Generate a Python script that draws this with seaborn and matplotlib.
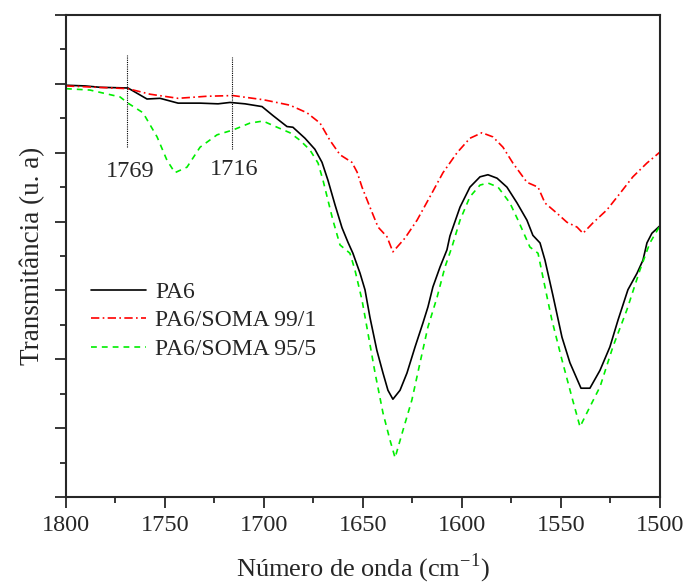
import numpy as np
import pandas as pd
import matplotlib
matplotlib.use("Agg")
import matplotlib.pyplot as plt
import seaborn as sns

# ---- data ----
pa6_x = [1800, 1790.4, 1782.8, 1768.7, 1759.1, 1752.5, 1743.4, 1732.3, 1723.2, 1717.2, 1709.6, 1701.0,
         1695.5, 1688.4, 1685.4, 1679.3, 1674.3, 1670.7, 1667.7, 1664.1, 1660.6, 1657.6, 1655.1, 1651.5,
         1649.0, 1646.5, 1643.0, 1639.9, 1637.4, 1634.9, 1631.3, 1627.8, 1623.7, 1619.7, 1617.2, 1614.7,
         1611.1, 1607.6, 1606.1, 1601.0, 1596.0, 1590.9, 1586.9, 1582.3, 1577.3, 1572.2, 1567.2, 1564.2,
         1560.6, 1558.1, 1554.1, 1549.5, 1545.5, 1539.9, 1535.4, 1530.3, 1525.3, 1521.2, 1516.2, 1511.6,
         1508.6, 1506.6, 1504.1, 1500]
pa6_y = [5.98, 5.97, 5.95, 5.94, 5.78, 5.79, 5.72, 5.72, 5.71, 5.73, 5.71, 5.67,
         5.54, 5.38, 5.37, 5.21, 5.05, 4.86, 4.60, 4.24, 3.91, 3.70, 3.54, 3.25,
         3.01, 2.61, 2.13, 1.80, 1.55, 1.42, 1.55, 1.80, 2.18, 2.53, 2.76, 3.05,
         3.34, 3.59, 3.79, 4.21, 4.50, 4.65, 4.68, 4.63, 4.50, 4.27, 4.02, 3.80,
         3.69, 3.44, 2.93, 2.32, 1.95, 1.58, 1.58, 1.84, 2.18, 2.57, 3.01, 3.25,
         3.44, 3.69, 3.83, 3.94]

s991_x = [1800, 1768.7, 1757.6, 1743.4, 1728.8, 1715.7, 1700.5, 1697.0, 1686.9, 1678.3, 1671.7, 1666.7,
          1661.6, 1655.6, 1653.0, 1650.5, 1646.5, 1642.4, 1637.9, 1634.9, 1628.8, 1622.7, 1616.2, 1609.6,
          1602.5, 1596.0, 1589.9, 1584.4, 1579.3, 1574.3, 1567.2, 1561.6, 1558.1, 1552.0, 1547.0, 1541.9,
          1538.9, 1533.9, 1526.8, 1520.2, 1513.7, 1506.6, 1500]
s991_y = [5.97, 5.93, 5.85, 5.79, 5.82, 5.83, 5.77, 5.75, 5.69, 5.58, 5.43, 5.18,
          4.97, 4.86, 4.72, 4.50, 4.21, 3.92, 3.78, 3.56, 3.76, 4.02, 4.36, 4.71,
          5.00, 5.21, 5.29, 5.23, 5.08, 4.85, 4.57, 4.50, 4.27, 4.12, 3.99, 3.92,
          3.83, 3.98, 4.17, 4.41, 4.65, 4.85, 5.01]

s955_x = [1800, 1787.9, 1772.7, 1768.7, 1761.1, 1754.0, 1749.0, 1745.0, 1738.9, 1732.3, 1723.7, 1715.7,
          1707.1, 1700.5, 1693.4, 1686.9, 1681.8, 1676.8, 1672.7, 1670.2, 1667.7, 1665.2, 1661.6, 1656.6,
          1654.1, 1650.5, 1647.5, 1643.9, 1639.9, 1636.4, 1633.8, 1629.8, 1625.3, 1621.2, 1617.2, 1612.6,
          1608.6, 1605.1, 1601.0, 1596.0, 1590.9, 1586.9, 1581.8, 1575.8, 1571.7, 1565.7, 1561.6, 1558.1,
          1554.6, 1549.5, 1544.5, 1540.4, 1535.4, 1530.3, 1523.8, 1516.7, 1510.1, 1505.1, 1500]
s955_y = [5.93, 5.91, 5.81, 5.72, 5.58, 5.23, 4.89, 4.71, 4.79, 5.08, 5.26, 5.33,
          5.43, 5.46, 5.37, 5.29, 5.18, 5.04, 4.85, 4.60, 4.31, 4.02, 3.66, 3.54,
          3.30, 2.86, 2.38, 1.80, 1.22, 0.83, 0.57, 0.97, 1.41, 1.95, 2.47, 2.90,
          3.34, 3.63, 4.02, 4.36, 4.53, 4.56, 4.50, 4.27, 4.02, 3.63, 3.54, 3.05,
          2.57, 1.99, 1.45, 1.02, 1.31, 1.60, 2.18, 2.72, 3.30, 3.69, 3.94]

series_names = ["PA6", "PA6/SOMA 99/1", "PA6/SOMA 95/5"]
marker_positions = [1769, 1716]
marker_labels = ["1769", "1716"]
x_ticks = [1800, 1750, 1700, 1650, 1600, 1550, 1500]

# ---- plot ----
sns.set_style("ticks")
plt.rcParams['font.family'] = ['Liberation Serif', 'DejaVu Serif']
plt.rcParams['mathtext.fontset'] = 'custom'
plt.rcParams['mathtext.rm'] = 'Liberation Serif'

fig = plt.figure(figsize=(6.84, 5.84), dpi=100)
ax = fig.add_axes([66/684, 87/584, 594/684, 482/584])

sns.lineplot(x=pa6_x, y=pa6_y, ax=ax, color='black', linewidth=1.2, sort=False,
             estimator=None, label=series_names[0])
sns.lineplot(x=s991_x, y=s991_y, ax=ax, color='red', linewidth=1.2, sort=False,
             estimator=None, label=series_names[1], linestyle=(0, (5, 2, 1, 2)))
sns.lineplot(x=s955_x, y=s955_y, ax=ax, color='#00ee00', linewidth=1.2, sort=False,
             estimator=None, label=series_names[2], linestyle=(0, (3.5, 3)))

# vertical marker lines
ax.vlines(marker_positions[0], 5.08, 6.42, colors='black', linestyles=(0, (1, 1)), linewidth=0.8)
ax.vlines(marker_positions[1], 5.05, 6.39, colors='black', linestyles=(0, (1, 1)), linewidth=0.8)
ax.text(marker_positions[0] - 1.3, 4.72, marker_labels[0], ha='center', va='center', fontsize=17.5)
ax.text(marker_positions[1] - 1, 4.76, marker_labels[1], ha='center', va='center', fontsize=17.5)

ax.set_xlim(1800, 1500)
ax.set_ylim(0, 7)
ax.set_xticks(x_ticks)
ax.set_xticks(np.arange(1775, 1500, -50), minor=True)
ax.set_yticks(np.arange(0, 7.01, 1))
ax.set_yticks(np.arange(0.5, 7, 1), minor=True)
ax.set_yticklabels([])
ax.tick_params(axis='both', which='major', length=8, width=1.3, direction='out', labelsize=17.5, pad=5)
ax.tick_params(axis='both', which='minor', length=4.5, width=1.3, direction='out')
for s in ax.spines.values():
    s.set_linewidth(1.5)
    s.set_visible(True)

ax.set_xlabel(r"Número de onda (cm$^{-1}$)", fontsize=19, labelpad=11)
ax.set_ylabel("Transmitância (u. a)", fontsize=19.5, labelpad=2)

leg = ax.legend(loc='upper left', bbox_to_anchor=(0.027, 0.467), frameon=False, fontsize=17,
                handlelength=2.3, handletextpad=0.4, labelspacing=0.3, borderaxespad=0)

fig.savefig("out.png", dpi=100)
